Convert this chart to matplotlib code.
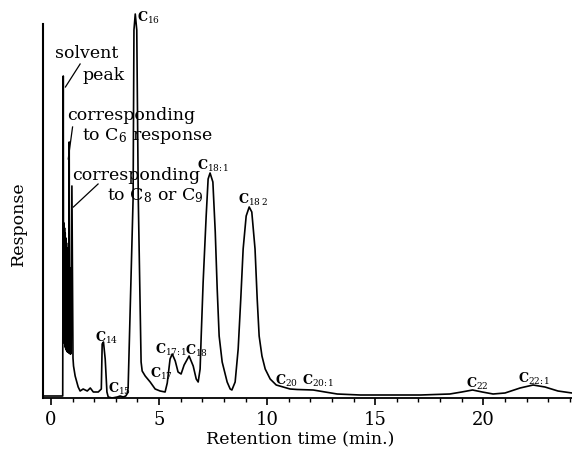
import matplotlib
matplotlib.use("Agg")
import matplotlib.pyplot as plt

# ---------------- data ----------------
retention_time = [
    -0.38, 0.545, 0.57, 0.585, 0.60, 0.615, 0.63, 0.645, 0.66, 0.675, 0.69,
    0.705, 0.72, 0.735, 0.75, 0.765, 0.78, 0.795, 0.81, 0.825, 0.845, 0.86,
    0.875, 0.89, 0.905, 0.915, 0.925, 0.97, 1.02, 1.045, 1.12, 1.26, 1.35,
    1.49, 1.68, 1.82, 1.96, 2.19, 2.33, 2.37, 2.43, 2.51, 2.59, 2.65, 2.83,
    3.07, 3.20, 3.34, 3.46, 3.52, 3.57, 3.80, 3.84, 3.90, 3.97, 4.04,
    4.17, 4.22, 4.36, 4.59, 4.82, 5.05, 5.28, 5.38, 5.51, 5.61, 5.75, 5.88,
    6.02, 6.16, 6.39, 6.58, 6.72, 6.81, 6.90, 6.95, 7.04, 7.18, 7.27,
    7.36, 7.49, 7.60, 7.69, 7.78, 7.92, 8.15, 8.29, 8.37, 8.52, 8.66, 8.78,
    8.89, 9.03, 9.17, 9.29, 9.44, 9.54, 9.63, 9.76, 9.91, 10.14, 10.42,
    10.74, 11.06, 11.39, 12.13, 12.68, 13.24, 14.30, 15.20, 17.10, 18.45,
    19.00, 19.50, 19.95, 20.45, 21.00, 21.70, 22.30, 22.85, 23.45, 24.10,
]
response = [
    2, 2, 322, 60, 175, 55, 170, 52, 165, 50, 160,
    48, 155, 47, 150, 46, 145, 46, 140, 45, 256, 45,
    130, 44, 125, 44, 45, 212, 40, 32, 22, 11, 7,
    9, 7, 10, 6, 6, 9, 54, 56, 39, 6, 1, 0,
    1, 2, 1, 2, 4, 10, 199, 368, 384, 368, 199,
    36, 27, 22, 16, 9, 7, 6, 15, 39, 44, 37, 26,
    24, 33, 42, 32, 19, 16, 29, 62, 116, 182, 219,
    225, 216, 166, 109, 62, 36, 16, 9, 8, 16, 49, 99,
    149, 182, 191, 186, 149, 99, 62, 42, 29, 19, 13,
    11, 9, 8.5, 8, 6, 4, 3, 3, 3, 4,
    6, 8, 6, 4, 5, 10, 13, 11, 7, 5,
]

peak_names = ["16", "18:1", "18 2", "14", "15", "17", "17:1", "18",
              "20", "20:1", "22", "22:1"]
x_ticks = [0, 5, 10, 15, 20]
x_label = "Retention time (min.)"
y_label = "Response"

# ---------------- figure ----------------
plt.rcParams["font.family"] = ["DejaVu Serif"]
plt.rcParams["mathtext.fontset"] = "dejavuserif"

fig = plt.figure(figsize=(5.72, 4.52), dpi=100)
ax = fig.add_axes([42.5 / 572, 53 / 452, (572 - 42.5) / 572, 399 / 452])
ax.plot(retention_time, response, color="black", lw=1.2, solid_joinstyle="round")
ax.set_xlim(-0.39, 24.10)
ax.set_ylim(0, 399)

for s in ["top", "right"]:
    ax.spines[s].set_visible(False)
ax.spines["left"].set_bounds(0, 374)
ax.spines["left"].set_linewidth(1.5)
ax.spines["bottom"].set_linewidth(1.3)
ax.set_yticks([])
ax.set_xticks(x_ticks)
ax.set_xticks(range(0, 25), minor=True)
ax.tick_params(axis="x", which="major", direction="out", length=5, width=1.2,
               labelsize=13, pad=4)
ax.tick_params(axis="x", which="minor", direction="out", length=3, width=1)
ax.set_xlabel(x_label, fontsize=12.5)
ax.set_ylabel(y_label, fontsize=12.5)
ax.xaxis.set_label_coords((300 - 42.5) / 529.5, -0.082)
ax.yaxis.set_label_coords((27 - 42.5) / 529.5, (399 - 224) / 399)

# peak labels (left x, centre y in data units)
label_pos = [(3.99, 381), (6.77, 233), (8.66, 199), (2.05, 61), (2.65, 10),
             (4.59, 25), (4.80, 49), (6.20, 48), (10.37, 18), (11.62, 18),
             (19.2, 15), (21.6, 20)]
for name, (tx, ty) in zip(peak_names, label_pos):
    ax.text(tx, ty, "C$_{" + name.replace(":", "\\!:\\!").replace(" ", "\\,") + "}$",
            fontsize=9.2, ha="left", va="center", fontweight="bold")

# annotations
ann_kw = dict(fontsize=12.5, ha="left", va="center")
ax.text(0.20, 346, "solvent", **ann_kw)
ax.text(1.45, 323, "peak", **ann_kw)
ax.text(0.75, 283, "corresponding", **ann_kw)
ax.text(1.45, 263, "to C$_6$ response", **ann_kw)
ax.text(0.98, 224, "corresponding", **ann_kw)
ax.text(2.60, 203, "to C$_8$ or C$_9$", **ann_kw)
ax.plot([1.35, 0.67], [334, 311], color="black", lw=0.9)
ax.plot([1.00, 0.80], [271, 239], color="black", lw=0.9)
ax.plot([2.18, 1.04], [214, 191], color="black", lw=0.9)

fig.savefig("out.png", dpi=100)
